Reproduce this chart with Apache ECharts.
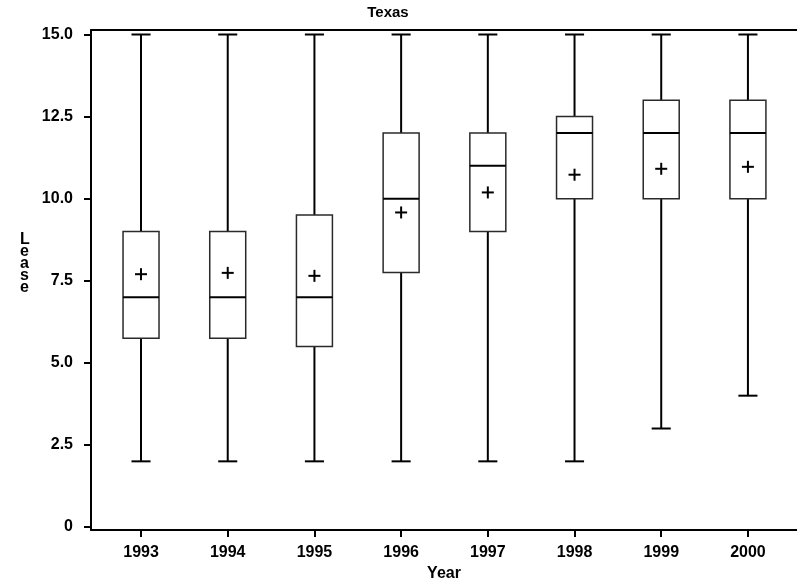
<!DOCTYPE html>
<html>
<head>
<meta charset="utf-8">
<title>Texas</title>
<script src="https://cdn.jsdelivr.net/npm/echarts@6/dist/echarts.min.js"></script>
<style>
  html, body { margin: 0; padding: 0; background: #fff; }
  #chart { width: 797px; height: 581px; }
</style>
</head>
<body>
<div id="chart"></div>
<script>
// Lease terms by year, Texas: five-number summary plus mean
const years      = [1993, 1994, 1995, 1996, 1997, 1998, 1999, 2000];
const minVals    = [2, 2, 2, 2, 2, 2, 3, 4];
const q1Vals     = [5.75, 5.75, 5.5, 7.75, 9, 10, 10, 10];
const medianVals = [7, 7, 7, 10, 11, 12, 12, 12];
const q3Vals     = [9, 9, 9.5, 12, 12, 12.5, 13, 13];
const maxVals    = [15, 15, 15, 15, 15, 15, 15, 15];
const meanVals   = [7.70, 7.74, 7.65, 9.58, 10.19, 10.73, 10.91, 10.97];
const yTicks     = [0, 2.5, 5, 7.5, 10, 12.5, 15];

const FONT = '"Liberation Sans", Arial, sans-serif';
const boxData = years.map((y, i) => [y, minVals[i], q1Vals[i], medianVals[i], q3Vals[i], maxVals[i], meanVals[i]]);

const chart = echarts.init(document.getElementById('chart'));

function renderBox(params, api) {
  const x = api.value(0);
  const pMin = api.coord([x, api.value(1)]);
  const pQ1 = api.coord([x, api.value(2)]);
  const pMed = api.coord([x, api.value(3)]);
  const pQ3 = api.coord([x, api.value(4)]);
  const pMax = api.coord([x, api.value(5)]);
  const pMean = api.coord([x, api.value(6)]);
  const unit = api.size([1, 0])[0];
  const boxW = unit * 0.415;
  const capW = unit * 0.22;
  const cx = pMed[0];
  const blk = { stroke: '#000', lineWidth: 2, fill: null };
  const line = (x1, y1, x2, y2, style) => ({ type: 'line', shape: { x1, y1, x2, y2 }, style });
  return {
    type: 'group',
    children: [
      line(cx, pQ3[1], cx, pMax[1], blk),
      line(cx, pQ1[1], cx, pMin[1], blk),
      line(cx - capW / 2, pMax[1], cx + capW / 2, pMax[1], blk),
      line(cx - capW / 2, pMin[1], cx + capW / 2, pMin[1], blk),
      {
        type: 'rect',
        shape: { x: cx - boxW / 2, y: pQ3[1], width: boxW, height: pQ1[1] - pQ3[1] },
        style: { fill: '#fff', stroke: '#2a2a2a', lineWidth: 1.5 }
      },
      line(cx - boxW / 2, pMed[1], cx + boxW / 2, pMed[1], blk),
      line(pMean[0] - 6, pMean[1], pMean[0] + 6, pMean[1], blk),
      line(pMean[0], pMean[1] - 6, pMean[0], pMean[1] + 6, blk)
    ]
  };
}

const option = {
  backgroundColor: '#fff',
  animation: false,
  grid: { left: 91, right: 0, top: 30, bottom: 51, outerBoundsMode: 'none', containLabel: false },
  title: {
    text: 'Texas',
    left: 383,
    top: 0,
    textAlign: 'center',
    textStyle: { fontFamily: FONT, fontSize: 15, fontWeight: 'bold', color: '#000' }
  },
  xAxis: [
    {
      type: 'value',
      min: 1992.423,
      max: 2000.566,
      name: 'Year',
      nameLocation: 'middle',
      nameGap: 35,
      nameTextStyle: { fontFamily: FONT, fontSize: 16, fontWeight: 'bold', color: '#000' },
      splitLine: { show: false },
      axisLine: { show: true, onZero: false, lineStyle: { color: '#000', width: 2 } },
      axisTick: { show: true, length: 7, lineStyle: { color: '#000', width: 2 }, customValues: years },
      axisLabel: {
        customValues: years,
        margin: 15,
        fontFamily: FONT, fontSize: 16, fontWeight: 'bold', color: '#000',
        formatter: v => String(Math.round(v))
      }
    },
    {
      type: 'value',
      position: 'top',
      min: 1992.423,
      max: 2000.566,
      splitLine: { show: false },
      axisLine: { show: true, onZero: false, lineStyle: { color: '#000', width: 2 } },
      axisTick: { show: false },
      axisLabel: { show: false }
    }
  ],
  yAxis: {
    type: 'value',
    min: -0.091,
    max: 15.137,
    splitLine: { show: false },
    axisLine: { show: true, onZero: false, lineStyle: { color: '#000', width: 2 } },
    axisTick: { show: true, length: 7, lineStyle: { color: '#000', width: 2 }, customValues: yTicks },
    axisLabel: {
      customValues: yTicks,
      margin: 18,
      fontFamily: FONT, fontSize: 16, fontWeight: 'bold', color: '#000',
      formatter: v => (Math.abs(v) < 1e-9 ? '0' : v.toFixed(1))
    }
  },
  graphic: [
    {
      type: 'text',
      left: 20,
      top: 232,
      style: {
        text: 'L\ne\na\ns\ne',
        fontFamily: FONT, fontSize: 16, fontWeight: 'bold', fill: '#000',
        lineHeight: 12, align: 'center'
      }
    }
  ],
  series: [
    {
      type: 'custom',
      renderItem: renderBox,
      data: boxData,
      encode: { x: 0, y: [1, 2, 3, 4, 5, 6] },
      clip: false,
      silent: true
    }
  ]
};

chart.setOption(option);
</script>
</body>
</html>
